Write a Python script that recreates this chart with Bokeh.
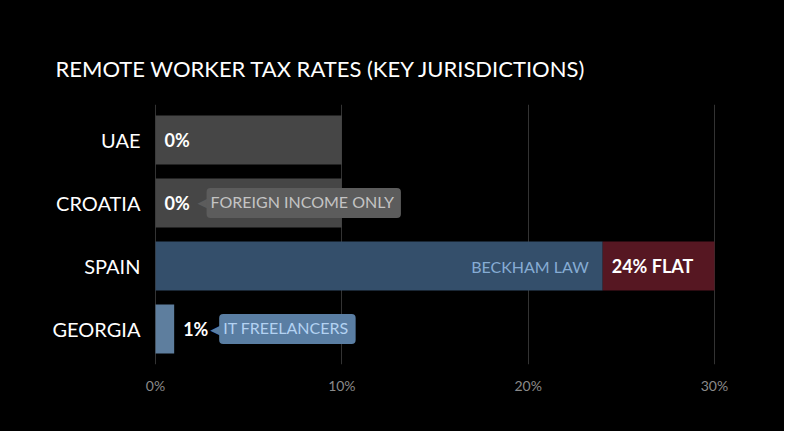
import re
from bokeh.plotting import figure
from bokeh.models import ColumnDataSource, FactorRange, Range1d, FixedTicker, CustomJSTickFormatter
from bokeh.core.properties import value
from bokeh.embed import file_html
from bokeh.resources import INLINE

# ---- data ----
countries = ["UAE", "CROATIA", "SPAIN", "GEORGIA"]
rates = [0, 0, 24, 1]
bar_ends = [10, 10, 24, 1]          # drawn bar length
value_labels = ["0%", "0%", "24% FLAT", "1%"]
flat_country = "SPAIN"
flat_start = 24
flat_end = 30
notes = ["", "FOREIGN INCOME ONLY", "BECKHAM LAW", "IT FREELANCERS"]
x_ticks = [0, 10, 20, 30]
title_text = "REMOTE WORKER TAX RATES (KEY JURISDICTIONS)"

# ---- styles ----
FONT = "Lato"
bar_colors = ["#464646", "#464646", "#344f6b", "#5e7e9e"]

factors = list(reversed(countries))
p = figure(width=784, height=431, output_backend="svg", toolbar_location=None,
           y_range=FactorRange(factors=factors, range_padding=0.063, range_padding_units="absolute"),
           x_range=Range1d(-0.70, 32.04),
           min_border_left=142, min_border_right=32, min_border_top=104, min_border_bottom=67)
p.background_fill_color = None
p.border_fill_color = None
p.outline_line_color = None
p.styles = {"background-color": "#000000"}

p.title.text = title_text
p.title.align = "left"
p.title.offset = -87
p.title.standoff = 45
p.title.text_color = "#ffffff"
p.title.text_font = FONT
p.title.text_font_size = "22px"
p.title.text_font_style = "normal"

src = ColumnDataSource(dict(country=countries, end=bar_ends, start=[0] * len(countries),
                            color=bar_colors, rate=rates, label=value_labels))
p.hbar(y="country", left="start", right="end", height=0.78, color="color", source=src, line_color=None)
p.hbar(y=[flat_country], left=[flat_start], right=[flat_end], height=0.78, color="#561722", line_color=None)

# value labels
p.text(x="rate", y="country", text="label", source=src, x_offset=9, text_align="left",
       text_baseline="middle", text_color="#ffffff", text_font=value(FONT),
       text_font_style="bold", text_font_size="18px")

# notes with pointer
def callout(country, offset, box_color, text_color):
    i = countries.index(country)
    p.text(x=[rates[i]], y=[country], text=["◀"], x_offset=offset + 1, text_align="right",
           text_baseline="middle", text_color=box_color, text_font=value("DejaVu Sans"),
           text_font_size="13px")
    p.text(x=[rates[i]], y=[country], text=[notes[i]], x_offset=offset, text_align="left",
           text_baseline="middle", text_color=text_color, text_font=value(FONT), text_font_size="16px",
           background_fill_color=box_color, border_radius=4, padding=[4, 7, 4, 7])

callout("CROATIA", 51, "#5c5c5c", "#c4c4c4")
callout("GEORGIA", 45, "#5a7ea3", "#b3d2f2")

si = countries.index("SPAIN")
p.text(x=[rates[si]], y=["SPAIN"], text=[notes[si]], x_offset=-14, text_align="right",
       text_baseline="middle", text_color="#86acd4", text_font=value(FONT), text_font_size="16px")

# axes
p.ygrid.grid_line_color = None
p.xgrid.grid_line_color = "#333333"
p.xgrid.ticker = FixedTicker(ticks=x_ticks)
p.xaxis.ticker = FixedTicker(ticks=x_ticks)
p.xaxis.formatter = CustomJSTickFormatter(code="return tick + '%';")
for ax in (p.xaxis[0], p.yaxis[0]):
    ax.axis_line_color = None
    ax.major_tick_line_color = None
    ax.minor_tick_line_color = None
    ax.major_tick_out = 0
    ax.major_tick_in = 0
p.xaxis.major_label_text_color = "#8a8a8a"
p.xaxis.major_label_text_font = FONT
p.xaxis.major_label_text_font_size = "14px"
p.xaxis.major_label_standoff = 12
p.yaxis.major_label_text_color = "#ffffff"
p.yaxis.major_label_text_font = FONT
p.yaxis.major_label_text_font_size = "20px"
p.yaxis.major_label_standoff = 2

html = file_html(p, INLINE)
html = re.sub(r"<body([^>]*)>", r'<body\1 style="background-color:#000000;">', html, count=1)
open("out.html", "w").write(html)
